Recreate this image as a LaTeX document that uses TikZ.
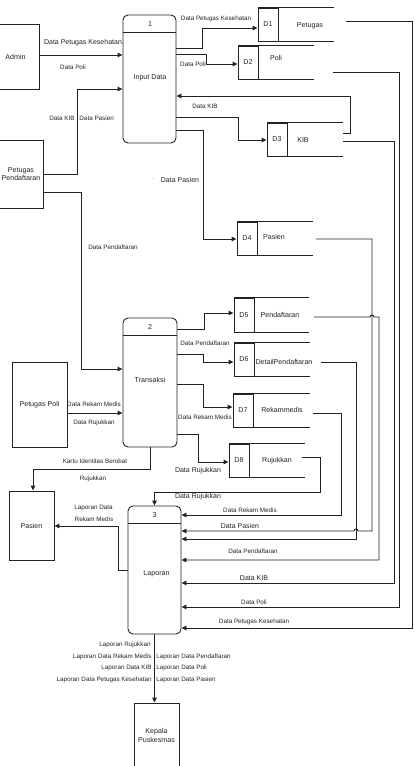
\documentclass[tikz,border=0pt]{standalone}
\usepackage{fontspec}
\setmainfont{Liberation Sans}
\usetikzlibrary{arrows.meta}
\definecolor{ink}{HTML}{222222}
\begin{document}
\begin{tikzpicture}[x=1pt,y=-1pt,line width=0.9pt,draw=ink,text=ink,
  lbl/.style={font=\fontsize{6.3}{7}\selectfont,inner sep=0pt},
  lblb/.style={font=\fontsize{7}{8}\selectfont,inner sep=0pt},
  txt/.style={font=\fontsize{7.1}{8.6}\selectfont,inner sep=0pt,align=center},
  ent/.style={draw,rectangle,inner sep=0pt,align=center,font=\fontsize{7.1}{8.6}\selectfont},
  proc/.style={draw,rounded corners=5pt,inner sep=0pt},
  idcell/.style={draw,inner sep=0pt,minimum width=20pt,minimum height=33pt,font=\fontsize{7.1}{8.6}\selectfont},
  arr/.style={-{Triangle[length=5pt,width=4.5pt]}}]
\useasboundingbox (0,0) rectangle (415,766);

% ---------- processes ----------
\node[proc,minimum width=53pt,minimum height=128pt] (p1) at (149.5,79) {};
\draw (p1.west |- 0,32) -- (p1.east |- 0,32);
\node[txt] (p1n) at (150,24) {1};
\node[txt] (p1t) at (150,78) {Input Data};

\node[proc,minimum width=54pt,minimum height=129pt] (p2) at (150,382.5) {};
\draw (p2.west |- 0,335) -- (p2.east |- 0,335);
\node[txt] (p2n) at (150,327) {2};
\node[txt] (p2t) at (150,380) {Transaksi};

\node[proc,minimum width=53pt,minimum height=128pt] (p3) at (154.5,570) {};
\draw (p3.west |- 0,523) -- (p3.east |- 0,523);
\node[txt] (p3n) at (154.5,515) {3};
\node[txt] (p3t) at (156.5,574) {Laporan};

% ---------- entities ----------
\node[ent,minimum width=47pt,minimum height=65pt] (admin) at (15.5,56.5) {Admin};
\node[ent,minimum width=44pt,minimum height=68pt] (ppend) at (21,174) {Petugas\\Pendaftaran};
\node[ent,minimum width=55pt,minimum height=85pt] (ppoli) at (39.5,404.5) {Petugas Poli};
\node[ent,minimum width=45pt,minimum height=69pt] (pasien) at (31.5,525.5) {Pasien};
\node[ent,minimum width=45pt,minimum height=65pt] (kepala) at (156.5,735.5) {Kepala\\Puskesmas};

% ---------- data stores ----------
\node[idcell] (d1) at (268,24.5) {D1};
\draw (d1.north west) -- (d1.north west -| 334,0);
\draw (d1.south west) -- (d1.south west -| 334,0);
\node[txt] (d1t) at (310,26) {Petugas};

\node[idcell] (d2) at (248,62.5) {D2};
\draw (d2.north west) -- (d2.north west -| 314,0);
\draw (d2.south west) -- (d2.south west -| 314,0);
\node[txt] (d2t) at (276,58) {Poli};

\node[idcell] (d3) at (277,139.5) {D3};
\draw (d3.north west) -- (d3.north west -| 343,0);
\draw (d3.south west) -- (d3.south west -| 343,0);
\node[txt] (d3t) at (303,140) {KIB};

\node[idcell] (d4) at (247,238.5) {D4};
\draw (d4.north west) -- (d4.north west -| 313,0);
\draw (d4.south west) -- (d4.south west -| 313,0);
\node[txt] (d4t) at (274,237) {Pasien};

\node[idcell,minimum height=34pt] (d5) at (244,315) {D5};
\draw (d5.north west) -- (d5.north west -| 309,0);
\draw (d5.south west) -- (d5.south west -| 309,0);
\node[txt] (d5t) at (280,315) {Pendaftaran};

\node[idcell] (d6) at (244,359.5) {D6};
\draw (d6.north west) -- (d6.north west -| 310,0);
\draw (d6.south west) -- (d6.south west -| 310,0);
\node[txt] (d6t) at (284,362) {DetailPendaftaran};

\node[idcell] (d7) at (243,410.5) {D7};
\draw (d7.north west) -- (d7.north west -| 310,0);
\draw (d7.south west) -- (d7.south west -| 310,0);
\node[txt] (d7t) at (282,410) {Rekammedis};

\node[idcell] (d8) at (239,460.5) {D8};
\draw (d8.north west) -- (d8.north west -| 305,0);
\draw (d8.south west) -- (d8.south west -| 305,0);
\node[txt] (d8t) at (277,461) {Rujukkan};

% free ends of flows leaving stores
\coordinate (d1o) at (346,21);
\coordinate (d2o) at (333,72);
\coordinate (d3r) at (343,133);
\coordinate (d3o) at (343,141);
\coordinate (d4o) at (316,239);
\coordinate (d5o) at (314,317);
\coordinate (d6o) at (321,362);
\coordinate (d7o) at (313,413);
\coordinate (d8o) at (302,457);

% ---------- flows into / out of process 1 ----------
\draw[arr] (admin.east |- 0,55) -- (p1.west |- 0,55);
\node[lblb] (l1) at (83,43) {Data Petugas Kesehatan};
\node[lbl] (l2) at (73,67) {Data Poli};

\draw[arr] (ppend.east |- 0,174) -| (77,89) -- (p1.west |- 0,89);
\node[lbl,anchor=east] (l3) at (75,118) {Data KIB};
\node[lbl,anchor=west] (l4) at (79,118) {Data Pasien};

\draw[arr] (p1.east |- 0,48) -| (202,28) -- (d1.west |- 0,28);
\node[lbl] (l5) at (216,19) {Data Petugas Kesehatan};

\draw[arr] (p1.east |- 0,54) -| (206,64) -- (d2.west |- 0,64);
\node[lbl] (l6) at (193,64.5) {Data Poli};

\draw[arr] (d3r) -| (350,96) -- (p1.east |- 0,96);
\node[lbl] (l7) at (205,106) {Data KIB};
\draw[arr] (p1.east |- 0,117) -| (238,140) -- (d3.west |- 0,140);

\draw[arr] (p1.east |- 0,130) -| (203,239) -- (d4.west |- 0,239);
\node[lblb] (l8) at (180,180) {Data Pasien};
\node[font=\fontsize{5}{6}\selectfont,inner sep=0pt,text=gray] (l8d) at (153,180) {-};

% ---------- flows into / out of process 2 ----------
\draw[arr] (ppend.east |- 0,192) -| (81,369) -- (p2.west |- 0,369);
\node[lbl] (l9) at (113,247) {Data Pendaftaran};

\draw[arr] (ppoli.east |- 0,413) -- (p2.west |- 0,413);
\node[lbl] (l10) at (94,404) {Data Rekam Medis};
\node[lbl] (l11) at (94,423) {Data Rujukkan};

\draw[arr] (p2.east |- 0,329) -| (204,313) -- (d5.west |- 0,313);
\draw[arr] (p2.east |- 0,354) -| (203,362) -- (d6.west |- 0,362);
\node[lbl] (l12) at (205,343) {Data Pendaftaran};
\draw[arr] (p2.east |- 0,384) -| (203,407) -- (d7.west |- 0,407);
\node[lbl] (l13) at (205,417) {Data Rekam Medis};
\draw[arr] (p2.east |- 0,434) -| (198,462) -- (d8.west |- 0,462);
\node[lblb] (l14) at (198,471) {Data Rujukkan};

\draw[arr] (p2.south) |- (33,469) -- (pasien.north -| 33,0);
\node[lbl] (l15) at (95,461) {Kartu Identitas Berobat};
\node[lbl] (l16) at (93,479) {Rujukkan};

% ---------- flows into / out of process 3 ----------
\draw[arr] (d8o) -| (320,492) -| (p3.north);
\node[lblb] (l17) at (198,497) {Data Rujukkan};

\draw[arr] (p3.west |- 0,570) -- (118,570) |- (pasien.east |- 0,526);
\node[lbl] (l18) at (93.5,508) {Laporan Data};
\node[lbl] (l19) at (94,519) {Rekam Medis};

\draw[arr] (d7o) -| (341,515) -- (p3.east |- 0,515);
\node[lbl] (l20) at (250,510) {Data Rekam Medis};

\draw[arr] (d4o) -| (372,531) -- (358,531) arc[start angle=0,end angle=-180,radius=2] -- (p3.east |- 0,531);
\node[lblb] (l21) at (240,526) {Data Pasien};

\draw[arr] (d6o) -| (356,539) -- (p3.east |- 0,539);

\draw[arr] (d5o) -- (370,317) arc[start angle=180,end angle=360,radius=2] -- (379,317) |- (p3.east |- 0,560);
\node[lbl] (l22) at (253,551) {Data Pendaftaran};

\draw[arr] (d3o) -| (394,583) -- (p3.east |- 0,583);
\node[lblb] (l23) at (254,578) {Data KIB};

\draw[arr] (d2o) -| (399,607) -- (p3.east |- 0,607);
\node[lbl] (l24) at (254,602) {Data Poli};

\draw[arr] (d1o) -| (412,628) -- (p3.east |- 0,628);
\node[lbl] (l25) at (254,622) {Data Petugas Kesehatan};

\draw[arr] (p3.south) -- (p3.south |- kepala.north);
\node[lbl,anchor=east] (r1) at (151,645) {Laporan Rujukkan};
\node[lbl,anchor=east] (r2) at (152,657) {Laporan Data Rekam Medis};
\node[lbl,anchor=west] (r3) at (156,657) {Laporan Data Pendaftaran};
\node[lbl,anchor=east] (r4) at (152,668) {Laporan Data KIB};
\node[lbl,anchor=west] (r5) at (156,668) {Laporan Data Poli};
\node[lbl,anchor=east] (r6) at (152,680) {Laporan Data Petugas Kesehatan};
\node[lbl,anchor=west] (r7) at (156,680) {Laporan Data Pasien};
\end{tikzpicture}
\end{document}
